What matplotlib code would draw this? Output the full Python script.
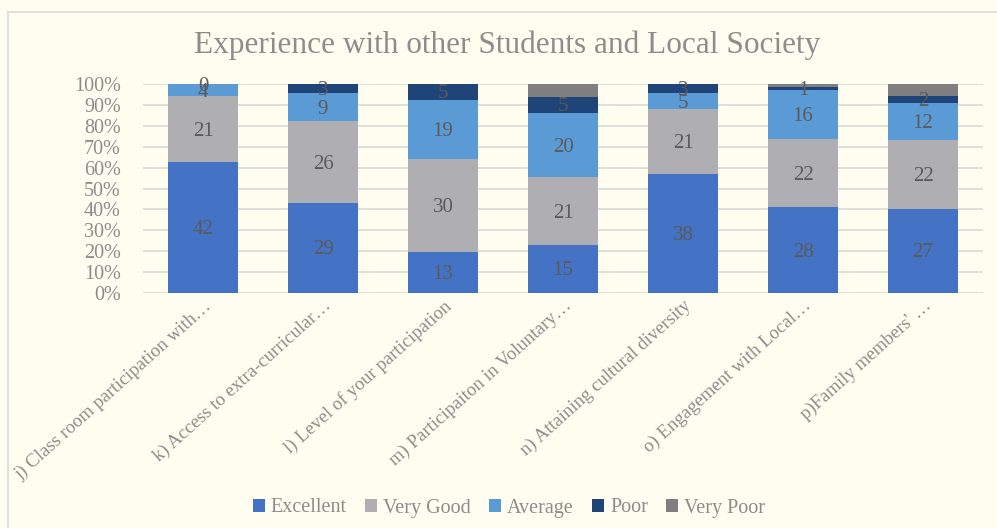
import matplotlib
matplotlib.use('Agg')
import matplotlib.pyplot as plt
import matplotlib.transforms as mtransforms
import numpy as np
from matplotlib.patches import Rectangle

categories = [
    "j) Class room participation with\u2026",
    "k) Access to extra-curricular\u2026",
    "l) Level of your participation",
    "m) Participaiton in Voluntary\u2026",
    "n) Attaining cultural diversity",
    "o) Engagement with Local\u2026",
    "p)Family members' \u2026",
]
series_names = ["Excellent", "Very Good", "Average", "Poor", "Very Poor"]
excellent = [42, 29, 13, 15, 38, 28, 27]
very_good = [21, 26, 30, 21, 21, 22, 22]
average = [4, 9, 19, 20, 5, 16, 12]
poor = [0, 3, 5, 5, 3, 1, 2]
very_poor = [0, 0, 0, 4, 0, 1, 4]
# Very Poor segments carry no data labels in the original
show_labels = [True, True, True, True, False]
colors = ["#4472C4", "#AFAFB3", "#5B9BD5", "#1F4478", "#7F7F7F"]
title = "Experience with other Students and Local Society"

bg = "#FFFDF0"
text_gray = "#8C8C8C"
label_gray = "#5A5A5A"

plt.rcParams['font.family'] = ['Liberation Serif', 'DejaVu Serif']

series = np.array([excellent, very_good, average, poor, very_poor], dtype=float)
totals = series.sum(axis=0)
pct = series / totals * 100

fig = plt.figure(figsize=(9.97, 5.28), dpi=100, facecolor=bg)
fig.patches.append(Rectangle((8 / 997, -0.1), 1, 1.1 - 12 / 528,
                             transform=fig.transFigure, fill=False,
                             edgecolor="#D9D9D9", linewidth=1.2))
ax = fig.add_axes([143 / 997, 1 - 293 / 528, 840 / 997, 209 / 528])
ax.set_facecolor(bg)

x = np.arange(len(categories))
bottom = np.zeros(len(categories))
for i, name in enumerate(series_names):
    ax.bar(x, pct[i], 0.58, bottom=bottom, color=colors[i], label=name, zorder=3)
    if show_labels[i]:
        for j in range(len(categories)):
            ax.text(x[j], bottom[j] + pct[i][j] / 2 - 1, f"{int(series[i][j])}",
                    ha='center', va='center', fontsize=15, color=label_gray, zorder=4)
    bottom += pct[i]

ax.set_xlim(-0.5, len(categories) - 0.5)
ax.set_ylim(0, 100)
ax.set_yticks(np.arange(0, 101, 10))
ax.set_yticklabels([f"{v}%" for v in range(0, 101, 10)], fontsize=14.5, color=text_gray)
ax.yaxis.grid(True, color="#D9D9D9", linewidth=1.2, zorder=0)
ax.set_xticks(x)
ax.set_xticklabels(categories, rotation=42, ha='right', rotation_mode='anchor',
                   fontsize=13.5, color=text_gray)
shift = mtransforms.ScaledTranslation(11 / 100, 0, fig.dpi_scale_trans)
for lab in ax.get_xticklabels():
    lab.set_transform(lab.get_transform() + shift)
ax.tick_params(axis='y', length=0, pad=16)
ax.tick_params(axis='x', length=0, pad=3)
for s in ax.spines.values():
    s.set_visible(False)

fig.text(507 / 997, 1 - 45 / 528, title, ha='center', va='center', fontsize=22.5, color=text_gray)

fig.legend(loc='center', bbox_to_anchor=(509 / 997, 1 - 508 / 528), ncol=5, frameon=False,
           fontsize=14.5, labelcolor=text_gray, handlelength=0.6, handleheight=0.6,
           handletextpad=0.3, columnspacing=0.9)

fig.savefig("out.png", dpi=100, facecolor=bg)
